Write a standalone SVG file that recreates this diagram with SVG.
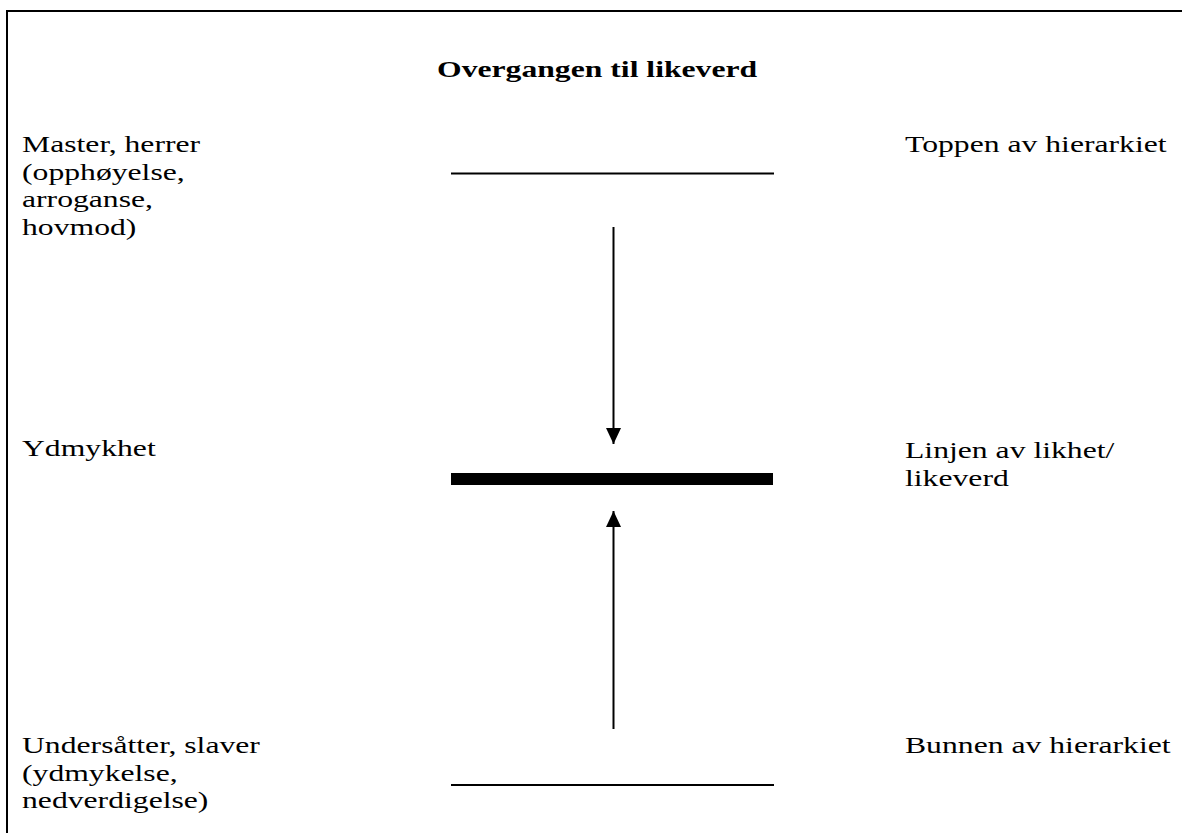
<svg xmlns="http://www.w3.org/2000/svg" width="1182" height="833" viewBox="0 0 1182 833">
<style>
text{font-family:"Liberation Serif","Times New Roman",serif;font-size:24px;fill:#000}
.t{font-weight:bold}
.ln{stroke:#000;stroke-width:2;fill:none}
</style>
<defs>
<marker id="ah2" markerWidth="16" markerHeight="16" refX="16" refY="8" orient="auto" markerUnits="userSpaceOnUse" viewBox="0 0 16 16">
<path d="M0,0.5 L16,8 L0,15.5 Z" fill="#000"/>
</marker>
</defs>
<rect width="1182" height="833" fill="#fff"/>
<rect id="frame" x="7" y="11" width="1200" height="850" fill="none" stroke="#000" stroke-width="2"/>
<g id="title"><text class="t" transform="translate(437,77) scale(1.32,1)">Overgangen til likeverd</text></g>
<g id="top-left">
<text transform="translate(22,152) scale(1.32,1)">Master, herrer</text>
<text transform="translate(22,180) scale(1.32,1)">(opphøyelse,</text>
<text transform="translate(22,207) scale(1.32,1)">arroganse,</text>
<text transform="translate(22,235) scale(1.32,1)">hovmod)</text>
</g>
<g id="top-right"><text transform="translate(905,152) scale(1.32,1)">Toppen av hierarkiet</text></g>
<g id="top-line"><line class="ln" x1="451" y1="173.5" x2="774" y2="173.5"/></g>
<g id="mid-left"><text transform="translate(22,456) scale(1.32,1)">Ydmykhet</text></g>
<g id="mid-right">
<text transform="translate(905,458) scale(1.32,1)">Linjen av likhet/</text>
<text transform="translate(905,486) scale(1.32,1)">likeverd</text>
</g>
<g id="mid-line"><rect x="451" y="473" width="322" height="12" fill="#000"/></g>
<g id="bottom-left">
<text transform="translate(22,753) scale(1.32,1)">Undersåtter, slaver</text>
<text transform="translate(22,781) scale(1.32,1)">(ydmykelse,</text>
<text transform="translate(22,808) scale(1.32,1)">nedverdigelse)</text>
</g>
<g id="bottom-right"><text transform="translate(905,753) scale(1.32,1)">Bunnen av hierarkiet</text></g>
<g id="bottom-line"><line class="ln" x1="451" y1="785" x2="774" y2="785"/></g>
<g id="connectors">
<line class="ln" x1="613.5" y1="227" x2="613.5" y2="444" marker-end="url(#ah2)"/>
<line class="ln" x1="613.5" y1="729" x2="613.5" y2="511" marker-end="url(#ah2)"/>
</g>
</svg>
